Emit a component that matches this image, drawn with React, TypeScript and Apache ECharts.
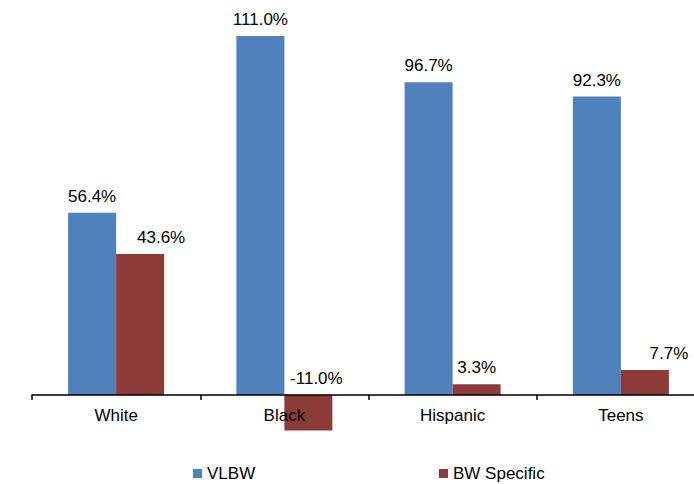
import React, { useEffect, useRef } from "react";
import * as echarts from "echarts";

const categories = ["White", "Black", "Hispanic", "Teens"];
const vlbw = [56.4, 111.0, 96.7, 92.3];
const bwSpecific = [43.6, -11.0, 3.3, 7.7];
const bwLabelOffsets = [21, 8, 0, 24];

const FONT = "'Liberation Sans', Arial, sans-serif";

export default function App() {
  const ref = useRef<HTMLDivElement>(null);
  useEffect(() => {
    if (!ref.current) return;
    const chart = echarts.init(ref.current, null, { renderer: "svg" });
    chart.setOption({
      animation: false,
      backgroundColor: "#ffffff",
      textStyle: { fontFamily: FONT },
      grid: {
        left: 32,
        right: -11,
        top: 7,
        bottom: 89,
        containLabel: false,
        outerBoundsMode: "none",
      },
      legend: [
        {
          data: ["VLBW"],
          left: 193,
          top: 465,
          padding: 0,
          icon: "rect",
          itemWidth: 9,
          itemHeight: 9,
          textStyle: { fontSize: 17, color: "#000", fontFamily: FONT },
        },
        {
          data: ["BW Specific"],
          left: 439,
          top: 465,
          padding: 0,
          icon: "rect",
          itemWidth: 9,
          itemHeight: 9,
          textStyle: { fontSize: 17, color: "#000", fontFamily: FONT },
        },
      ],
      xAxis: {
        type: "category",
        data: categories,
        z: 5,
        axisLine: { onZero: false, lineStyle: { color: "#000", width: 1.5 } },
        axisTick: { show: true, length: 5, lineStyle: { color: "#000", width: 1.5 } },
        axisLabel: { color: "#000", fontSize: 17, margin: 12, fontFamily: FONT },
        splitLine: { show: false },
      },
      yAxis: {
        type: "value",
        min: 0,
        max: 120,
        show: false,
        splitLine: { show: false },
      },
      series: [
        {
          name: "VLBW",
          type: "bar",
          data: vlbw,
          barWidth: 48,
          barGap: "0%",
          clip: false,
          itemStyle: { color: "#4F81BD" },
          label: {
            show: true,
            position: "top",
            distance: 8,
            fontSize: 17,
            color: "#000",
            fontFamily: FONT,
            formatter: (p: any) => p.value.toFixed(1) + "%",
          },
        },
        {
          name: "BW Specific",
          type: "bar",
          data: bwSpecific.map((v, i) => ({
            value: v,
            label: { offset: [bwLabelOffsets[i], 0] },
          })),
          barWidth: 48,
          barGap: "0%",
          clip: false,
          itemStyle: { color: "#8C3B38" },
          label: {
            show: true,
            position: "top",
            distance: 8,
            fontSize: 17,
            color: "#000",
            fontFamily: FONT,
            formatter: (p: any) => p.value.toFixed(1) + "%",
          },
        },
      ],
    });
    return () => chart.dispose();
  }, []);
  return (
    <div
      ref={ref}
      style={{ position: "absolute", left: 0, top: 0, width: 694, height: 484 }}
    />
  );
}
